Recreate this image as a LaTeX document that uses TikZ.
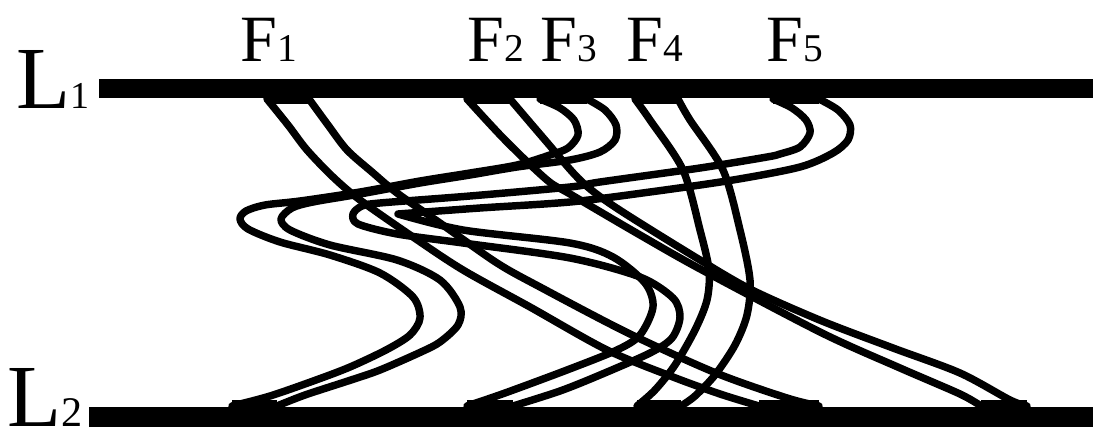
\documentclass[tikz,border=0pt]{standalone}
\usepackage{fontspec}
\setmainfont{Liberation Serif}
\usetikzlibrary{calc}
\newcommand{\sublab}[3]{#1{\fontsize{#3}{#3}\selectfont #2}}

\begin{document}
\begin{tikzpicture}[x=0.025cm, y=-0.025cm,
  bar/.style={fill=black},
  fiber/.style={line width=5.3pt, line join=round, line cap=round},
  pad/.style={line width=5.3pt},
  flab/.style={anchor=base west, inner sep=0pt, font=\fontsize{47}{47}\selectfont},
  llab/.style={anchor=base west, inner sep=0pt, font=\fontsize{63}{63}\selectfont},
]
\useasboundingbox (0,0) rectangle (1093,433);

% ---- bars ----
\fill[bar] (99,79) rectangle (1093,98);
\fill[bar] (89,407) rectangle (1093,427);
\node[llab] (L1) at (16,108) {\sublab{L}{1}{27}};
\node[llab] (L2) at (7,426) {\sublab{L}{2}{30}};

% ---- fibre labels ----
\node[flab] (F1) at (240,62) {\sublab{F}{1}{28}};
\node[flab] (F2) at (467,62) {\sublab{F}{2}{28}};
\node[flab] (F3) at (540,62) {\sublab{F}{3}{28}};
\node[flab] (F4) at (626,62) {\sublab{F}{4}{28}};
\node[flab] (F5) at (766,62) {\sublab{F}{5}{28}};

% feet on L1
\coordinate (t1a) at (267,99);  \coordinate (t1b) at (309,99);
\coordinate (t2a) at (467,99);  \coordinate (t2b) at (510,99);
\coordinate (t3a) at (540,99);  \coordinate (t3b) at (587,99);
\coordinate (t4a) at (635,99);  \coordinate (t4b) at (678,99);
\coordinate (t5a) at (773,99);  \coordinate (t5b) at (819,99);
% feet on L2
\coordinate (b3a) at (232,406); \coordinate (b3b) at (277,406);
\coordinate (b5b) at (467,406); \coordinate (b5a) at (513,406);
\coordinate (b4a) at (637,406); \coordinate (b4b) at (681,406);
\coordinate (b1a) at (759,406); \coordinate (b1b) at (819,406);
\coordinate (b2a) at (981,406); \coordinate (b2b) at (1027,406);

% pads
\foreach \p/\q in {t1a/t1b,t2a/t2b,t3a/t3b,t4a/t4b,t5a/t5b}
  \draw[pad] ($(\p)+(0,1)$) -- ($(\q)+(0,1)$);
\foreach \p/\q in {b3a/b3b,b5b/b5a,b4a/b4b,b1a/b1b,b2a/b2b}
  \draw[pad] ($(\p)+(0,-2)$) -- ($(\q)+(0,-2)$);

% F1: straight-ish band
\draw[fiber] plot[smooth] coordinates {(t1a) (288,125) (307,150) (333,177) (360,200) (413,237) (463,270) (530,307) (607,350) (673,377) (720,394) (b1a)};
\draw[fiber] plot[smooth] coordinates {(t1b) (328,125) (347,150) (372,172) (397,193) (440,223) (497,263) (540,287) (628,333) (716,373) (787,398) (b1b)};

% F2: long band to the right
\draw[fiber] plot[smooth] coordinates {(t2a) (505,140) (547,180) (570,194) (640,235) (702,270) (822,333) (900,368) (960,394) (b2a)};
\draw[fiber] plot[smooth] coordinates {(t2b) (545,140) (580,180) (615,207) (700,260) (752,290) (822,321) (893,348) (960,373) (1010,400) (b2b)};

% F3: hook, sweep left, S down
\draw[fiber] plot[smooth] coordinates {(t3a) (560,108) (574,120) (578,135) (568,148) (550,155) (517,165) (470,173) (420,181) (360,192) (300,201) (265,205) (246,211) (240,219) (248,229) (280,242) (330,255) (380,273) (413,297) (420,318) (410,335) (386,350) (350,367) (316,380) (270,396) (b3a)};
\draw[fiber] plot[smooth] coordinates {(t3b) (605,110) (616,125) (615,140) (600,152) (570,160) (517,167) (470,175) (420,183) (360,194) (313,202) (292,208) (281,219) (290,230) (330,245) (397,260) (440,280) (460,307) (458,325) (440,342) (421,352) (380,370) (351,380) (305,395) (b3b)};

% F4: arcs
\draw[fiber] plot[smooth] coordinates {(t4a) (650,120) (683,170) (700,230) (709,270) (707,300) (695,330) (675,365) (655,390) (b4a)};
\draw[fiber] plot[smooth] coordinates {(t4b) (690,120) (723,170) (740,230) (750,280) (747,315) (735,345) (715,375) (695,396) (b4b)};

% F5: hook, sweep left, reverse S
\draw[fiber] plot[smooth] coordinates {(t5a) (792,108) (806,120) (810,133) (800,147) (780,154) (767,157) (700,168) (600,182) (570,187) (470,196) (380,203) (362,206) (353,214) (358,224) (397,234) (463,243) (570,258) (640,277) (673,298) (680,317) (672,338) (650,353) (600,375) (560,391) (b5a)};
\draw[fiber] plot[smooth] coordinates {(t5b) (838,110) (850,125) (848,140) (833,153) (800,167) (733,180) (650,192) (570,202) (480,208) (398,214)}
  plot[smooth] coordinates {(398,214) (463,230) (570,243) (613,257) (645,283) (653,307) (640,335) (617,350) (567,370) (505,393) (b5b)};

\end{tikzpicture}
\end{document}
